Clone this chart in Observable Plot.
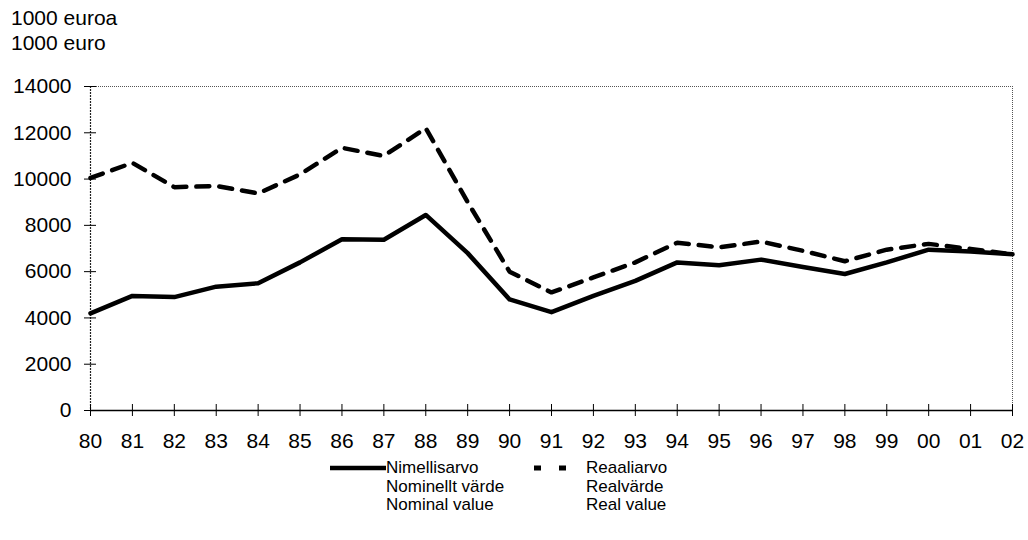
<!DOCTYPE html>
<html>
<head>
<meta charset="utf-8">
<script src="https://cdn.jsdelivr.net/npm/d3@7"></script>
<script src="https://cdn.jsdelivr.net/npm/@observablehq/plot@0.6"></script>
<style>
  html, body { margin: 0; padding: 0; background: #fff; }
  body { width: 1028px; height: 540px; position: relative; overflow: hidden; font-family: "Liberation Sans", Arial, sans-serif; color: #000; }
  #unit { position: absolute; left: 11px; top: 5px; font-size: 21px; line-height: 25px; }
  #chart { position: absolute; left: 0; top: 0; }
  #chart svg text { font-size: 21px !important; fill: #000; }
  #legend { position: absolute; left: 0; top: 0; width: 1028px; height: 540px; pointer-events: none; }
  .lg { position: absolute; font-size: 17px; line-height: 18.5px; }
</style>
</head>
<body>
<div id="chart"></div>
<div id="unit">1000 euroa<br>1000 euro</div>
<div id="legend">
  <svg width="1028" height="540" style="position:absolute;left:0;top:0">
    <line x1="330" x2="386" y1="468" y2="468" stroke="#000" stroke-width="4.5"></line>
    <line x1="534" x2="567" y1="468" y2="468" stroke="#000" stroke-width="5" stroke-dasharray="7,18"></line>
  </svg>
  <div class="lg" style="left:386px; top:459px;">Nimellisarvo<br>Nominellt värde<br>Nominal value</div>
  <div class="lg" style="left:586px; top:459px;">Reaaliarvo<br>Realvärde<br>Real value</div>
</div>
<script>
const years = [1980,1981,1982,1983,1984,1985,1986,1987,1988,1989,1990,1991,1992,1993,1994,1995,1996,1997,1998,1999,2000,2001,2002];
const tickLabels = ["80","81","82","83","84","85","86","87","88","89","90","91","92","93","94","95","96","97","98","99","00","01","02"];
const nominal = [4200,4950,4900,5350,5500,6400,7400,7380,8450,6800,4800,4250,4950,5600,6400,6280,6520,6200,5900,6400,6950,6870,6750];
const real    = [10050,10700,9650,9700,9380,10200,11350,11000,12200,9000,6000,5100,5750,6400,7250,7050,7300,6900,6450,6950,7200,6980,6750];
const yTicks = [0,2000,4000,6000,8000,10000,12000,14000];

const nomData = years.map((y, i) => ({year: y, value: nominal[i]}));
const realData = years.map((y, i) => ({year: y, value: real[i]}));
const fmtX = d => tickLabels[years.indexOf(d)];

const chart = Plot.plot({
  width: 1028,
  height: 540,
  marginTop: 86,
  marginLeft: 90,
  marginRight: 16,
  marginBottom: 130,
  style: {fontFamily: "Liberation Sans, Arial, sans-serif", fontSize: "21px", color: "#000", background: "transparent"},
  x: {domain: [1980, 2002]},
  y: {domain: [0, 14000]},
  marks: [
    Plot.ruleY([14000], {stroke: "#555", strokeWidth: 1, strokeDasharray: "1,1"}),
    Plot.ruleX([2002], {stroke: "#555", strokeWidth: 1, strokeDasharray: "1,1"}),
    Plot.ruleX([1980], {stroke: "#222", strokeWidth: 1.2, strokeDasharray: "2,1"}),
    Plot.axisY({ticks: yTicks, tickSize: 6, tickPadding: 13, tickFormat: d => String(d), label: null, fontSize: 21, stroke: "#000"}),
    Plot.axisY({ticks: yTicks, tickSize: -6, tickFormat: () => "", label: null, stroke: "#000"}),
    Plot.axisX({ticks: years, tickSize: 6, tickPadding: 17, tickFormat: fmtX, label: null, fontSize: 21, stroke: "#000"}),
    Plot.axisX({ticks: years, tickSize: -6, tickFormat: () => "", label: null, stroke: "#000"}),
    Plot.ruleY([0], {stroke: "#000", strokeWidth: 1.5}),
    Plot.line(realData, {x: "year", y: "value", stroke: "#000", strokeWidth: 4.5, strokeDasharray: "13,10", strokeLinejoin: "miter"}),
    Plot.line(nomData, {x: "year", y: "value", stroke: "#000", strokeWidth: 4.5, strokeLinejoin: "round"})
  ]
});
document.getElementById("chart").appendChild(chart);
</script>
</body>
</html>
